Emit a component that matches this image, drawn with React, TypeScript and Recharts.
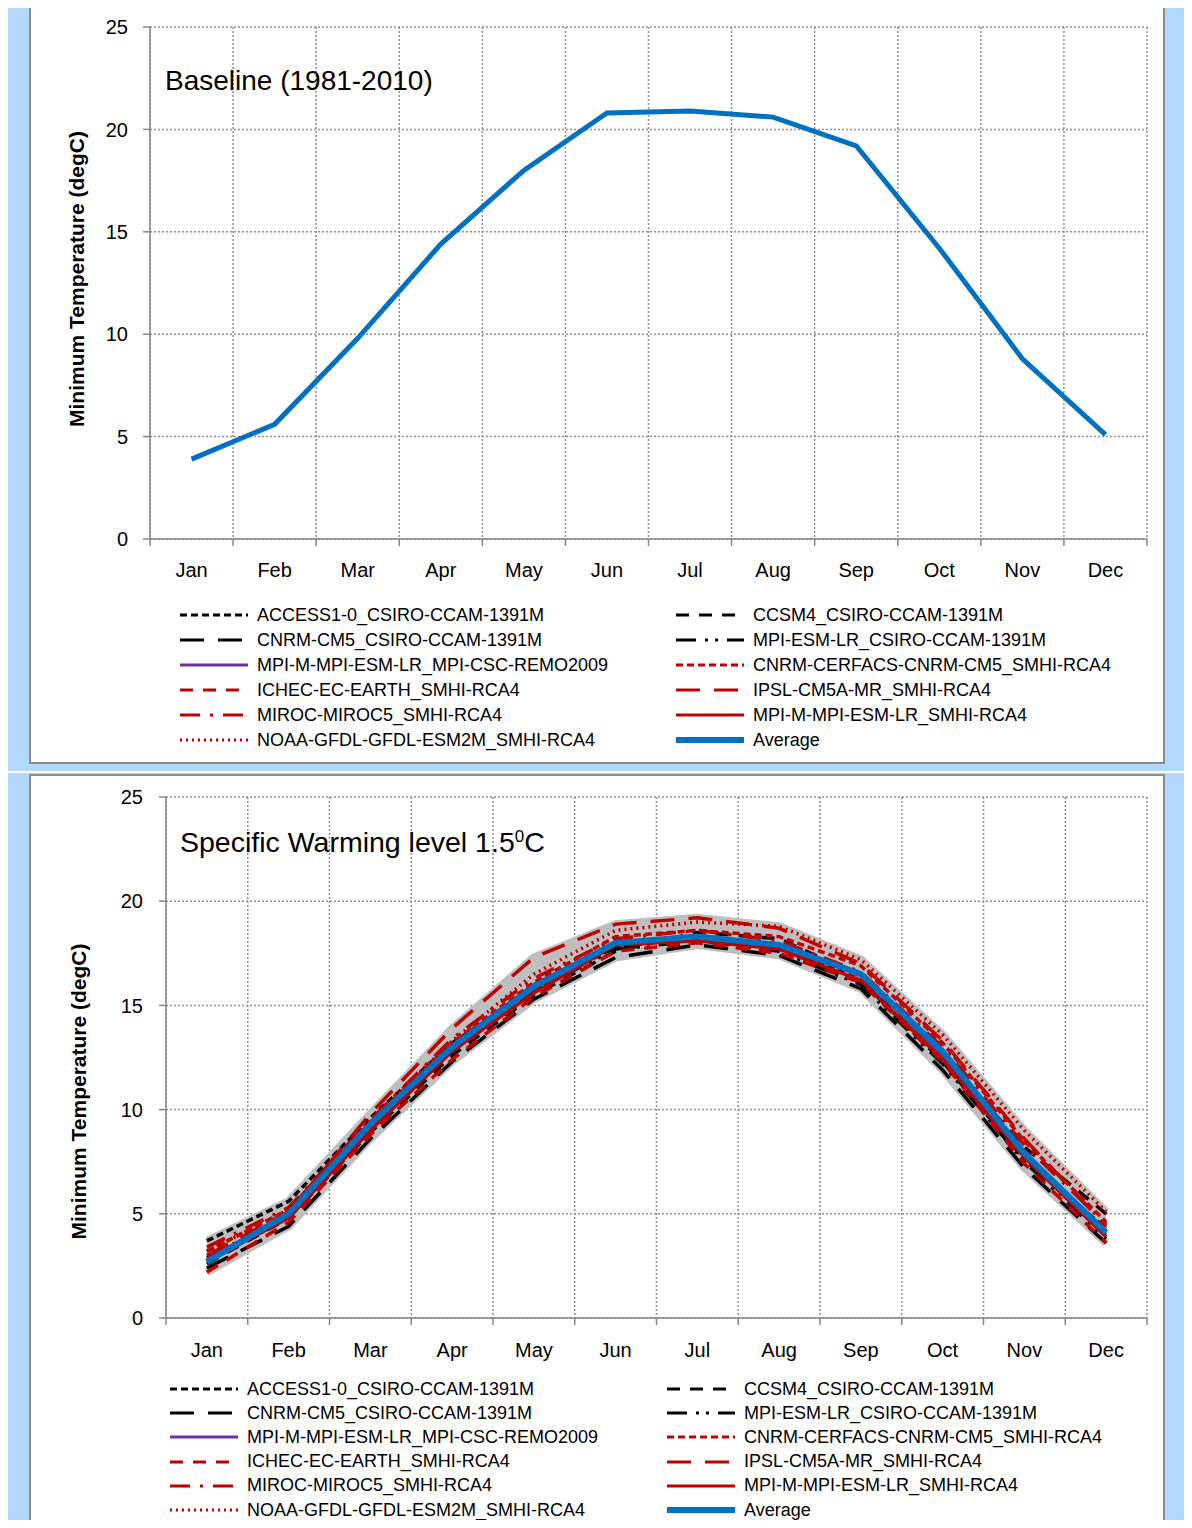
import React from 'react';
import { ComposedChart, Line, Area, XAxis, YAxis, CartesianGrid } from 'recharts';

const months = ['Jan', 'Feb', 'Mar', 'Apr', 'May', 'Jun', 'Jul', 'Aug', 'Sep', 'Oct', 'Nov', 'Dec'];
const yTicks = [0, 5, 10, 15, 20, 25];
const gridTicks = [0, 1, 2, 3, 4, 5, 6, 7, 8, 9, 10, 11, 12];

// baseline 1981-2010, only the ensemble average is plotted
const baselineAverage = [3.9, 5.6, 9.8, 14.4, 18.0, 20.8, 20.9, 20.6, 19.2, 14.2, 8.8, 5.1];

// specific warming level 1.5C
const access = [3.7, 5.6, 9.6, 13.2, 15.8, 17.8, 18.3, 17.9, 16.2, 12.3, 7.6, 4.3];
const ccsm4 = [2.6, 4.8, 8.9, 12.6, 15.5, 17.6, 18.5, 18.2, 16.4, 12.6, 8.2, 5.0];
const cnrmCsiro = [2.4, 4.4, 8.6, 12.3, 15.3, 17.3, 17.9, 17.4, 15.8, 11.9, 7.2, 3.6];
const mpiCsiro = [2.9, 4.9, 9.2, 12.9, 15.7, 17.7, 18.1, 17.6, 16.0, 12.2, 7.5, 3.8];
const mpiRemo = [2.8, 5.0, 9.3, 13.1, 16.0, 18.0, 18.2, 17.8, 16.5, 12.6, 7.8, 4.0];
const cnrmRca = [3.2, 5.2, 9.4, 13.2, 16.1, 18.3, 18.6, 18.3, 16.9, 13.2, 8.5, 4.6];
const ichec = [2.2, 4.6, 8.8, 12.4, 15.4, 17.6, 18.0, 17.5, 16.1, 12.3, 7.4, 3.6];
const ipsl = [3.0, 5.1, 9.8, 13.9, 17.3, 18.9, 19.2, 18.7, 17.0, 13.3, 8.6, 4.4];
const miroc = [3.4, 5.3, 9.5, 13.4, 16.3, 18.2, 18.6, 18.1, 16.6, 13.0, 8.3, 4.5];
const mpiRca = [2.7, 4.8, 9.0, 12.8, 15.6, 17.9, 18.1, 17.7, 16.2, 12.4, 7.7, 3.9];
const noaa = [3.2, 5.2, 9.5, 13.3, 16.5, 18.6, 19.0, 18.8, 17.2, 13.6, 9.0, 5.1];
const warmingAverage = [2.7, 5.0, 9.3, 13.0, 15.9, 18.0, 18.3, 17.9, 16.5, 12.8, 7.9, 4.1];

const RED = '#c00000';
const FONT = '"Liberation Sans", Arial, sans-serif';

const series = [
  { key: 'access', name: 'ACCESS1-0_CSIRO-CCAM-1391M', values: access, color: '#000', dash: '7 4' },
  { key: 'ccsm4', name: 'CCSM4_CSIRO-CCAM-1391M', values: ccsm4, color: '#000', dash: '13 10' },
  { key: 'cnrmCsiro', name: 'CNRM-CM5_CSIRO-CCAM-1391M', values: cnrmCsiro, color: '#000', dash: '24 14' },
  { key: 'mpiCsiro', name: 'MPI-ESM-LR_CSIRO-CCAM-1391M', values: mpiCsiro, color: '#000', dash: '20 9 3 7 3 9' },
  { key: 'mpiRemo', name: 'MPI-M-MPI-ESM-LR_MPI-CSC-REMO2009', values: mpiRemo, color: '#7030a0', dash: undefined },
  { key: 'cnrmRca', name: 'CNRM-CERFACS-CNRM-CM5_SMHI-RCA4', values: cnrmRca, color: RED, dash: '7 4' },
  { key: 'ichec', name: 'ICHEC-EC-EARTH_SMHI-RCA4', values: ichec, color: RED, dash: '13 10' },
  { key: 'ipsl', name: 'IPSL-CM5A-MR_SMHI-RCA4', values: ipsl, color: RED, dash: '24 14' },
  { key: 'miroc', name: 'MIROC-MIROC5_SMHI-RCA4', values: miroc, color: RED, dash: '20 10 3 10' },
  { key: 'mpiRca', name: 'MPI-M-MPI-ESM-LR_SMHI-RCA4', values: mpiRca, color: RED, dash: undefined },
  { key: 'noaa', name: 'NOAA-GFDL-GFDL-ESM2M_SMHI-RCA4', values: noaa, color: RED, dash: '2 4' },
];

const baselineRows = months.map((m, i) => ({ month: m, avg: baselineAverage[i] }));

const warmingRows = months.map((m, i) => {
  const row: Record<string, any> = { month: m, avg: warmingAverage[i] };
  const vals = series.map((s) => s.values[i]);
  series.forEach((s) => (row[s.key] = s.values[i]));
  row.band = [Math.min(...vals), Math.max(...vals)];
  return row;
});

const legendItems = [
  ...series.map((s) => ({ name: s.name, color: s.color, dash: s.dash, width: 3 })),
  { name: 'Average', color: '#0070c0', dash: undefined, width: 6 },
];

function LegendBlock({ top, step, leftX, rightX }: { top: number; step: number; leftX: number; rightX: number }) {
  return (
    <>
      {legendItems.map((it, i) => {
        const row = Math.floor(i / 2);
        const x = i % 2 === 0 ? leftX : rightX;
        return (
          <div
            key={it.name}
            style={{
              position: 'absolute',
              left: x,
              top: top + row * step - 12,
              height: 24,
              display: 'flex',
              alignItems: 'center',
              fontFamily: FONT,
              fontSize: 18,
              color: '#000',
              whiteSpace: 'nowrap',
            }}
          >
            <svg width={70} height={10} style={{ display: 'block' }}>
              <line x1={0} y1={5} x2={68} y2={5} stroke={it.color} strokeWidth={it.width} strokeDasharray={it.dash} />
            </svg>
            <span style={{ marginLeft: 7 }}>{it.name}</span>
          </div>
        );
      })}
    </>
  );
}

function YTitle(props: any) {
  const { viewBox, shift, cx } = props;
  const cy = viewBox.y + viewBox.height / 2 + shift;
  return (
    <text
      x={cx}
      y={cy}
      transform={`rotate(-90 ${cx} ${cy})`}
      textAnchor="middle"
      dominantBaseline="central"
      fontFamily={FONT}
      fontWeight="bold"
      fontSize={21}
      fill="#000"
    >
      Minimum Temperature (degC)
    </text>
  );
}

function Panel(props: {
  top: number;
  height: number;
  plotLeft: number;
  plotTop: number;
  plotBottom: number;
  rows: any[];
  models: boolean;
  labelShift: number;
  labelX: number;
  tickMargin: number;
  catMargin: number;
}) {
  const width = 1136;
  const plotRight = 1118;
  const pad = (plotRight - props.plotLeft) / 24;
  const tick = { fill: '#000', fontSize: 20, fontFamily: FONT };
  return (
    <div style={{ position: 'absolute', left: 29, top: props.top }}>
      <ComposedChart
        width={width}
        height={props.height}
        data={props.rows}
        margin={{ top: props.plotTop, right: width - plotRight, left: 0, bottom: props.height - props.plotBottom - 40 }}
      >
        <CartesianGrid xAxisId="a" stroke="#8f8f8f" strokeWidth={1.5} strokeDasharray="2 2" />
        <XAxis
          xAxisId="b"
          dataKey="month"
          axisLine={false}
          tickLine={false}
          tickSize={0}
          tickMargin={props.catMargin}
          height={30}
          interval={0}
          padding={{ left: pad, right: pad }}
          tick={tick}
        />
        {/* numeric axis used only for the category-boundary ticks and the vertical grid */}
        <XAxis
          xAxisId="a"
          type="number"
          dataKey={() => 0}
          scale="linear"
          domain={[0, 12]}
          allowDataOverflow
          ticks={gridTicks}
          interval={0}
          tickFormatter={() => ''}
          tickSize={7}
          height={10}
          stroke="#868686"
          strokeWidth={1.5}
        />
        <YAxis
          domain={[0, 25]}
          ticks={yTicks}
          interval={0}
          width={props.plotLeft}
          tickSize={7}
          tickMargin={props.tickMargin}
          stroke="#868686"
          strokeWidth={1.5}
          tick={tick}
          label={<YTitle shift={props.labelShift} cx={props.labelX} />}
        />
        {props.models && (
          <Area
            xAxisId="b"
            dataKey="band"
            type="linear"
            fill="#bfbfbf"
            fillOpacity={1}
            stroke="#bfbfbf"
            strokeWidth={8}
            activeDot={false}
            isAnimationActive={false}
          />
        )}
        {props.models &&
          series.map((s) => (
            <Line
              key={s.key}
              xAxisId="b"
              dataKey={s.key}
              type="linear"
              stroke={s.color}
              strokeWidth={3.5}
              strokeDasharray={s.dash}
              dot={false}
              activeDot={false}
              isAnimationActive={false}
            />
          ))}
        <Line
          xAxisId="b"
          dataKey="avg"
          type="linear"
          stroke="#0070c0"
          strokeWidth={props.models ? 6 : 5}
          dot={false}
          activeDot={false}
          isAnimationActive={false}
        />
      </ComposedChart>
    </div>
  );
}

export default function App() {
  return (
    <div
      style={{
        position: 'relative',
        width: 1192,
        height: 1528,
        margin: -8,
        overflow: 'hidden',
        background: '#b4d8fd',
        fontFamily: FONT,
      }}
    >
      <div style={{ position: 'absolute', left: 0, top: 1, width: 1192, height: 2, background: '#e3f0fe' }} />
      <div style={{ position: 'absolute', left: 0, top: 771, width: 1192, height: 2, background: '#fff' }} />
      <div
        style={{
          position: 'absolute',
          left: 29,
          top: 5,
          width: 1136,
          height: 759,
          background: '#fff',
          border: '2px solid #8c8c8c',
          boxSizing: 'border-box',
        }}
      />
      <div
        style={{
          position: 'absolute',
          left: 29,
          top: 774,
          width: 1136,
          height: 800,
          background: '#fff',
          border: '2px solid #8c8c8c',
          boxSizing: 'border-box',
        }}
      />
      <Panel
        top={5}
        height={759}
        plotLeft={121}
        plotTop={22}
        plotBottom={534}
        rows={baselineRows}
        models={false}
        labelShift={-4}
        labelX={47}
        tickMargin={15}
        catMargin={14}
      />
      <Panel
        top={774}
        height={760}
        plotLeft={137}
        plotTop={23}
        plotBottom={544}
        rows={warmingRows}
        models={true}
        labelShift={34}
        labelX={49}
        tickMargin={16}
        catMargin={15}
      />
      <div style={{ position: 'absolute', left: 165, top: 67, fontSize: 28, lineHeight: '28px', color: '#000', whiteSpace: 'nowrap' }}>
        Baseline (1981-2010)
      </div>
      <div style={{ position: 'absolute', left: 180, top: 828, fontSize: 28.5, lineHeight: '28px', color: '#000', whiteSpace: 'nowrap' }}>
        Specific Warming level 1.5<sup style={{ fontSize: 17, lineHeight: 0, verticalAlign: '0.6em' }}>0</sup>C
      </div>
      <LegendBlock top={615} step={25} leftX={180} rightX={676} />
      <LegendBlock top={1389} step={24.2} leftX={170} rightX={667} />
    </div>
  );
}
